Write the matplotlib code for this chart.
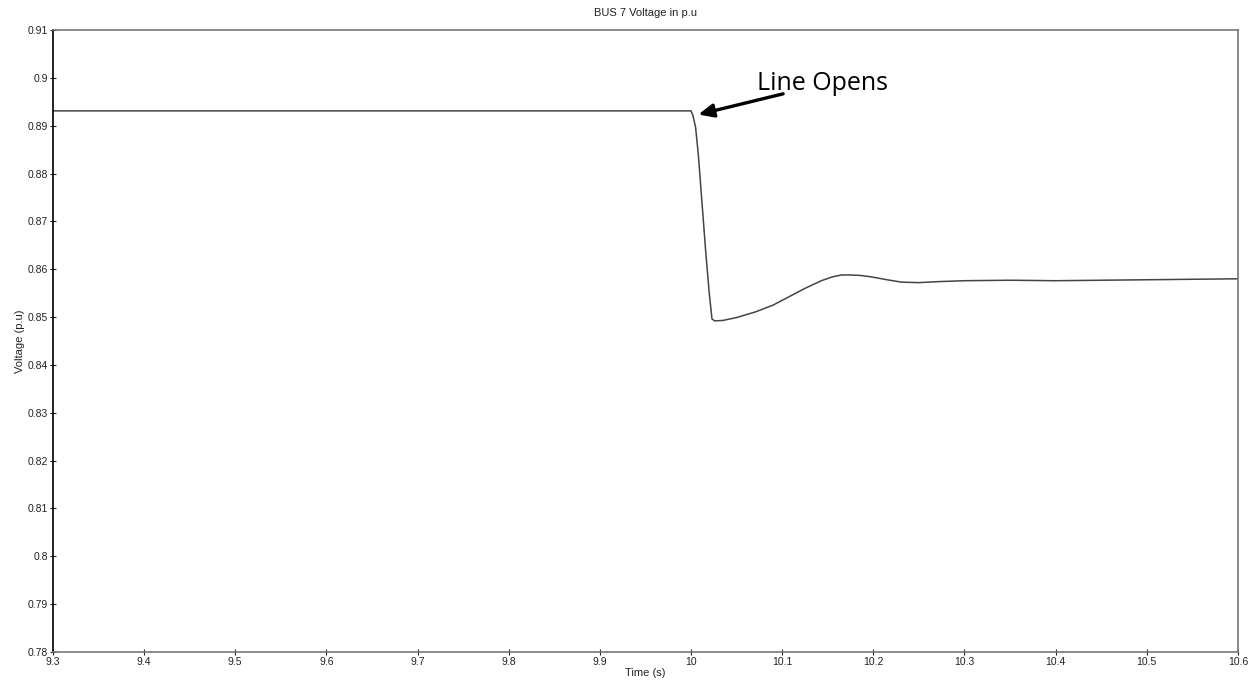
import matplotlib
matplotlib.use("Agg")
import matplotlib.pyplot as plt

# Data
time_s = [9.3, 10.0, 10.002, 10.005, 10.008, 10.012, 10.016, 10.020, 10.023, 10.026,
          10.035, 10.05, 10.071, 10.09, 10.107, 10.125, 10.143, 10.155, 10.165, 10.175,
          10.186, 10.198, 10.215, 10.231, 10.25, 10.27, 10.3, 10.35, 10.4, 10.45, 10.5, 10.55, 10.6]
voltage_pu = [0.8931, 0.8931, 0.8922, 0.8897, 0.8840, 0.8740, 0.8640, 0.8550, 0.8496, 0.8492,
              0.8493, 0.8499, 0.8511, 0.8525, 0.8542, 0.8560, 0.8576, 0.8584, 0.8588, 0.8588,
              0.8587, 0.8584, 0.8578, 0.8573, 0.8572, 0.8574, 0.8576, 0.8577, 0.8576, 0.8577, 0.8578, 0.8579, 0.8580]
xticks = [9.3, 9.4, 9.5, 9.6, 9.7, 9.8, 9.9, 10, 10.1, 10.2, 10.3, 10.4, 10.5, 10.6]
xticklabels = ["9.3", "9.4", "9.5", "9.6", "9.7", "9.8", "9.9", "10", "10.1", "10.2", "10.3", "10.4", "10.5", "10.6"]
yticks = [0.78, 0.79, 0.8, 0.81, 0.82, 0.83, 0.84, 0.85, 0.86, 0.87, 0.88, 0.89, 0.9, 0.91]
yticklabels = ["0.78", "0.79", "0.8", "0.81", "0.82", "0.83", "0.84", "0.85", "0.86", "0.87", "0.88", "0.89", "0.9", "0.91"]

plt.rcParams['font.family'] = ['Liberation Sans', 'DejaVu Sans']

fig = plt.figure(figsize=(12.6, 6.87), dpi=100)
ax = fig.add_axes([0.042, 0.051, 0.9405, 0.9053])

ax.plot(time_s, voltage_pu, color="#444444", lw=1.1)
ax.set_xlim(9.3, 10.6)
ax.set_ylim(0.78, 0.91)
ax.set_xticks(xticks)
ax.set_xticklabels(xticklabels)
ax.set_yticks(yticks)
ax.set_yticklabels(yticklabels)
ax.tick_params(axis='both', direction='inout', length=5, width=0.8, labelsize=7.5, pad=1, colors="#222222")

for s in ['top', 'right', 'bottom']:
    ax.spines[s].set_color("#777777")
    ax.spines[s].set_linewidth(1.2)
ax.spines['left'].set_color("black")
ax.spines['left'].set_linewidth(1.2)

ax.set_title("BUS 7 Voltage in p.u", fontsize=8, pad=10, color="#222222")
ax.set_xlabel("Time (s)", fontsize=8, labelpad=1, color="#222222")
ax.set_ylabel("Voltage (p.u)", fontsize=8, labelpad=2, color="#222222")

ax.annotate("", xy=(10.005, 0.8922), xytext=(10.104, 0.8968),
            arrowprops=dict(arrowstyle="-|>,head_length=0.9,head_width=0.4", color="black", lw=2.4))
ax.text(10.072, 0.8975, "Line Opens", fontsize=18, family=['Open Sans', 'DejaVu Sans'],
        ha="left", va="baseline", color="black")

fig.savefig("out.png", dpi=100)
